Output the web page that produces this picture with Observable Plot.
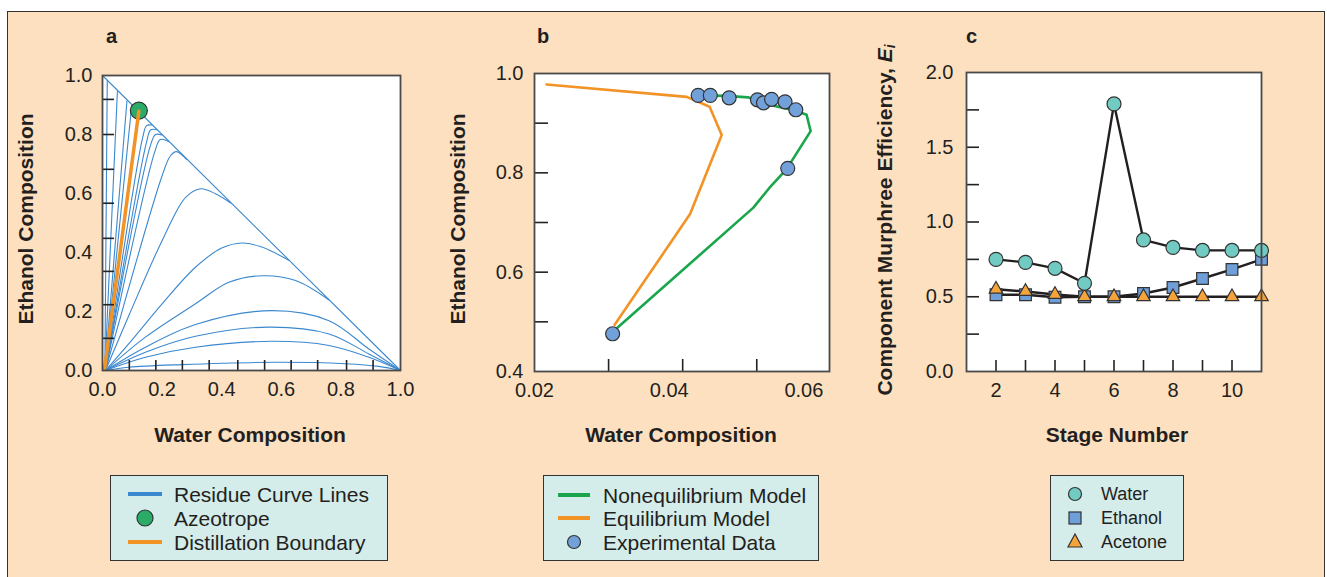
<!DOCTYPE html>
<html><head><meta charset="utf-8">
<script src="https://cdn.jsdelivr.net/npm/d3@7"></script>
<script src="https://cdn.jsdelivr.net/npm/@observablehq/plot@0.6"></script>
<style>
body{margin:0;background:#fff;font-family:"Liberation Sans",Arial,Helvetica,sans-serif;width:1327px;height:577px;overflow:hidden;position:relative;color:#231f20}
#panel{position:absolute;left:7px;top:11px;width:1316px;height:590px;border:1.5px solid #333;background:#fde0bf}
.plot{position:absolute;top:0}
.lab{position:absolute;font-weight:bold;font-size:21px;white-space:nowrap;transform:translate(-50%,-50%);line-height:21px}
.rot{transform:translate(-50%,-50%) rotate(-90deg)}
.pl{position:absolute;font-weight:bold;font-size:20px;line-height:20px}
.legend{position:absolute;background:#d4ecea;border:1.3px solid #333;box-sizing:border-box}
.legend .t{position:absolute;white-space:nowrap;transform:translateY(-50%);line-height:1}
.legend svg{position:absolute;left:0;top:0}
</style></head>
<body>
<div id="panel"></div>
<div id="root"></div>
<script>
// ---------- Panel a: residue curve map ----------
const residueCurves = [
  [[0.008,0],[0.016,0.983]],
  [[0.008,0],[0.05,0.946]],
  [[0.008,0],[0.082,0.913]],
  [[0.008,0],[0.098,0.898]],
  [[0.01,0],[0.135,0.79],[0.148,0.83],[0.166,0.832]],
  [[0.01,0],[0.148,0.775],[0.162,0.816],[0.182,0.816]],
  [[0.01,0],[0.16,0.76],[0.178,0.80],[0.2,0.798]],
  [[0.01,0],[0.175,0.74],[0.194,0.783],[0.222,0.776]],
  [[0.01,0],[0.2,0.66],[0.228,0.728],[0.248,0.742],[0.282,0.716]],
  [[0.01,0],[0.09,0.19],[0.2,0.44],[0.279,0.587],[0.33,0.616],[0.379,0.599],[0.43,0.568]],
  [[0.01,0],[0.1,0.105],[0.2,0.226],[0.312,0.35],[0.4,0.415],[0.469,0.432],[0.53,0.42],[0.625,0.374]],
  [[0.01,0],[0.144,0.113],[0.312,0.226],[0.424,0.299],[0.536,0.321],[0.648,0.305],[0.76,0.239]],
  [[0.01,0],[0.144,0.079],[0.312,0.156],[0.569,0.203],[0.76,0.169],[0.894,0.073],[1,0]],
  [[0.01,0],[0.144,0.062],[0.312,0.116],[0.558,0.147],[0.76,0.124],[0.894,0.056],[1,0]],
  [[0.01,0],[0.144,0.045],[0.312,0.079],[0.569,0.099],[0.76,0.085],[0.894,0.045],[1,0]],
  [[0.01,0],[0.088,0.011],[0.267,0.02],[0.58,0.028],[0.815,0.023],[0.927,0.014],[1,0]]
];
const simplexEdge = [[0,1],[1,0]];
const boundaryLine = [[0.007,0.006],[0.122,0.879]];
const azeotrope = [[0.122,0.881]];
const aTickLabels = [0,0.2,0.4,0.6,0.8,1.0];
const aYTicks = [0.109,0.223,0.336,0.448,0.567,0.682,0.8,0.919];
const aXTicks = [0.09,0.179,0.268,0.358,0.454,0.544,0.633,0.722,0.819,0.908];

// ---------- Panel b: column profile ----------
const eqX = [0.0218,0.0426,0.0460,0.0478,0.0431,0.0319];
const eqY = [0.978,0.953,0.933,0.876,0.717,0.494];
const noneqX = [0.0318,0.0525,0.0549,0.0574,0.0610,0.0604,0.0588,0.0555,0.0517,0.0485,0.0443];
const noneqY = [0.482,0.730,0.770,0.807,0.884,0.917,0.925,0.935,0.952,0.955,0.956];
const expX = [0.0443,0.0461,0.0489,0.0531,0.0540,0.0552,0.0572,0.0588,0.0576,0.0316];
const expY = [0.956,0.956,0.951,0.947,0.941,0.948,0.943,0.927,0.809,0.476];
const bYLabels = [0.4,0.6,0.8,1.0];
const bYTicks = [0.5,0.6,0.7,0.8,0.9];
const bXLabels = [0.02,0.04,0.06];
const bXTicks = [0.031,0.042,0.053];

// ---------- Panel c: Murphree efficiencies ----------
const stages = [2,3,4,5,6,7,8,9,10,11];
const waterEff = [0.75,0.73,0.69,0.59,1.79,0.88,0.83,0.81,0.81,0.81];
const ethanolEff = [0.513,0.513,0.497,0.50,0.50,0.522,0.562,0.622,0.683,0.75];
const acetoneEff = [0.55,0.535,0.515,0.50,0.50,0.50,0.50,0.50,0.50,0.50];
const cYLabels = [0,0.5,1.0,1.5,2.0];
const cYTicks = [0.25,0.5,0.75,1.0,1.25,1.5,1.75];
const cXLabels = [2,4,6,8,10];
const cXTicks = [2,3,4,5,6,7,8,9,10];

// colors
const BLUE_LINE = "#3b88cf", ORANGE = "#f29326", GREEN = "#19a64b", AZEO = "#2aac68";
const EXP_BLUE = "#72a1da", TEAL = "#72cbc3", SQ_BLUE = "#6f9fd9", TRI_ORANGE = "#f5a43c";
const INK = "#231f20", FRAME = "#4a4a4a";

const baseStyle = {fontSize:"20px", fontFamily:"'Liberation Sans', Arial, Helvetica, sans-serif", color:INK, background:"transparent", overflow:"visible"};
const fmt1 = d3.format(".1f"), fmt2 = d3.format(".2f");
const TICKFONT = 20;

function tickAxes(xTicks, yTicks, xLen, yLen) {
  return [
    Plot.axisY(yTicks, {tickSize:yLen, dx:yLen, fill:"none", label:null, stroke:"#222", strokeWidth:1.6}),
    Plot.axisX(xTicks, {tickSize:xLen, dy:-xLen, fill:"none", label:null, stroke:"#222", strokeWidth:1.6})
  ];
}

const root = document.getElementById("root");
function place(svg, left) { svg.classList.add("plot"); svg.style.left = left + "px"; root.appendChild(svg); }

// Panel a
const curveRows = residueCurves.flatMap((c, i) => c.map(([x, y]) => ({x, y, id: i})));
const plotA = Plot.plot({
  width:440, height:420, marginLeft:102, marginTop:75, marginRight:40, marginBottom:50,
  x:{domain:[0,1], label:null}, y:{domain:[0,1], label:null},
  style:baseStyle,
  marks:[
    Plot.frame({fill:"white"}),
    Plot.line(curveRows, {x:"x", y:"y", z:"id", stroke:BLUE_LINE, strokeWidth:1.1, curve:"catmull-rom"}),
    Plot.line(simplexEdge, {x:d=>d[0], y:d=>d[1], stroke:BLUE_LINE, strokeWidth:1.1}),
    Plot.dot(azeotrope, {x:d=>d[0], y:d=>d[1], r:8.5, fill:AZEO, stroke:"#333", strokeWidth:1.2}),
    Plot.line(boundaryLine, {x:d=>d[0], y:d=>d[1], stroke:ORANGE, strokeWidth:3.5}),
    ...tickAxes(aXTicks, aYTicks, 10, 12),
    Plot.axisY(aTickLabels, {tickSize:0, tickPadding:10, tickFormat:fmt1, label:null, fontSize:TICKFONT}),
    Plot.axisX(aTickLabels, {tickSize:0, tickPadding:11, tickFormat:fmt1, label:null, fontSize:TICKFONT}),
    Plot.frame({stroke:FRAME, strokeWidth:1.8})
  ]
});
place(plotA, 0);

// Panel b
const eqRows = eqX.map((x, i) => ({x, y: eqY[i]}));
const noneqRows = noneqX.map((x, i) => ({x, y: noneqY[i]}));
const expRows = expX.map((x, i) => ({x, y: expY[i]}));
const plotB = Plot.plot({
  width:420, height:420, marginLeft:94, marginTop:73, marginRight:31, marginBottom:49,
  x:{domain:[0.02,0.0638], label:null}, y:{domain:[0.4,1.0], label:null},
  style:baseStyle,
  marks:[
    Plot.frame({fill:"white"}),
    Plot.line(eqRows, {x:"x", y:"y", stroke:ORANGE, strokeWidth:2.6}),
    Plot.line(noneqRows, {x:"x", y:"y", stroke:GREEN, strokeWidth:2.6}),
    Plot.dot(expRows, {x:"x", y:"y", r:7, fill:EXP_BLUE, stroke:"#333", strokeWidth:1.2}),
    ...tickAxes(bXTicks, bYTicks, 12, 14),
    Plot.axisY(bYLabels, {tickSize:0, tickPadding:11, tickFormat:fmt1, label:null, fontSize:TICKFONT}),
    Plot.axisX(bXLabels, {tickSize:0, tickPadding:11, tickFormat:fmt2, label:null, fontSize:TICKFONT}),
    Plot.frame({stroke:FRAME, strokeWidth:1.8})
  ]
});
place(plotB, 440);

// Panel c
const mk = arr => stages.map((s, i) => ({x: s, y: arr[i]}));
const wRows = mk(waterEff), eRows = mk(ethanolEff), aRows = mk(acetoneEff);
const plotC = Plot.plot({
  width:440, height:420, marginLeft:106, marginTop:72, marginRight:39, marginBottom:49,
  x:{domain:[1,11], label:null}, y:{domain:[0,2], label:null},
  style:baseStyle,
  marks:[
    Plot.frame({fill:"white"}),
    Plot.line(aRows, {x:"x", y:"y", stroke:INK, strokeWidth:2.4}),
    Plot.line(eRows, {x:"x", y:"y", stroke:INK, strokeWidth:2.4}),
    Plot.line(wRows, {x:"x", y:"y", stroke:INK, strokeWidth:2.4}),
    Plot.dot(eRows, {x:"x", y:"y", r:6.6, symbol:"square", fill:SQ_BLUE, stroke:"#333", strokeWidth:1.2}),
    Plot.dot(aRows, {x:"x", y:"y", r:5, symbol:"triangle", fill:TRI_ORANGE, stroke:"#333", strokeWidth:1.2}),
    Plot.dot(wRows, {x:"x", y:"y", r:7, fill:TEAL, stroke:"#333", strokeWidth:1.2}),
    ...tickAxes(cXTicks, cYTicks, 11, 13),
    Plot.axisY(cYLabels, {tickSize:0, tickPadding:13, tickFormat:fmt1, label:null, fontSize:TICKFONT}),
    Plot.axisX(cXLabels, {tickSize:0, tickPadding:11, tickFormat:d3.format("d"), label:null, fontSize:TICKFONT}),
    Plot.frame({stroke:FRAME, strokeWidth:1.8})
  ]
});
place(plotC, 860);

// ---------- Text: panel letters and axis titles ----------
function addDiv(cls, html, left, top) {
  const d = document.createElement("div");
  d.className = cls; d.innerHTML = html;
  d.style.left = left + "px"; d.style.top = top + "px";
  root.appendChild(d); return d;
}
addDiv("pl", "a", 106, 26);
addDiv("pl", "b", 537, 26);
addDiv("pl", "c", 966, 26);
addDiv("lab", "Water Composition", 250, 434);
addDiv("lab", "Water Composition", 681, 434);
addDiv("lab", "Stage Number", 1117, 434);
addDiv("lab rot", "Ethanol Composition", 25, 219);
addDiv("lab rot", "Ethanol Composition", 457, 219);
addDiv("lab rot", "Component Murphree Efficiency, <i>E<sub style='font-size:14px;vertical-align:-3px'>i</sub></i>", 887, 220);

// ---------- Legends ----------
function legend(left, top, w, h, fontSize, rows, textX) {
  const box = document.createElement("div");
  box.className = "legend";
  Object.assign(box.style, {left:left+"px", top:top+"px", width:w+"px", height:h+"px"});
  let svg = `<svg width="${w}" height="${h}">`;
  rows.forEach(r => { svg += r.symbol; });
  svg += `</svg>`;
  box.innerHTML = svg + rows.map(r => `<div class="t" style="left:${textX}px;top:${r.y}px;font-size:${fontSize}px">${r.label}</div>`).join("");
  root.appendChild(box);
}
const lineSym = (x1, x2, y, c) => `<line x1="${x1}" x2="${x2}" y1="${y}" y2="${y}" stroke="${c}" stroke-width="4"/>`;
const circSym = (cx, cy, r, c) => `<circle cx="${cx}" cy="${cy}" r="${r}" fill="${c}" stroke="#333" stroke-width="1.2"/>`;

legend(110, 475, 278, 86, 21, [
  {y:18, label:"Residue Curve Lines", symbol:lineSym(17, 51, 18, BLUE_LINE)},
  {y:42, label:"Azeotrope", symbol:circSym(34, 42, 8, AZEO)},
  {y:66, label:"Distillation Boundary", symbol:lineSym(17, 51, 66, ORANGE)}
], 63);
legend(543, 475, 276, 86, 21, [
  {y:19, label:"Nonequilibrium Model", symbol:lineSym(14, 46, 19, GREEN)},
  {y:42, label:"Equilibrium Model", symbol:lineSym(14, 46, 42, ORANGE)},
  {y:66, label:"Experimental Data", symbol:circSym(30, 66, 6.5, EXP_BLUE)}
], 59);
legend(1050, 475, 134, 86, 18, [
  {y:18, label:"Water", symbol:circSym(24, 18, 6.5, TEAL)},
  {y:42, label:"Ethanol", symbol:`<rect x="18" y="36" width="12" height="12" fill="${SQ_BLUE}" stroke="#333" stroke-width="1.2"/>`},
  {y:66, label:"Acetone", symbol:`<path d="M24,58 L31,71 L17,71 Z" fill="${TRI_ORANGE}" stroke="#333" stroke-width="1.2"/>`}
], 50);
</script>
</body></html>
